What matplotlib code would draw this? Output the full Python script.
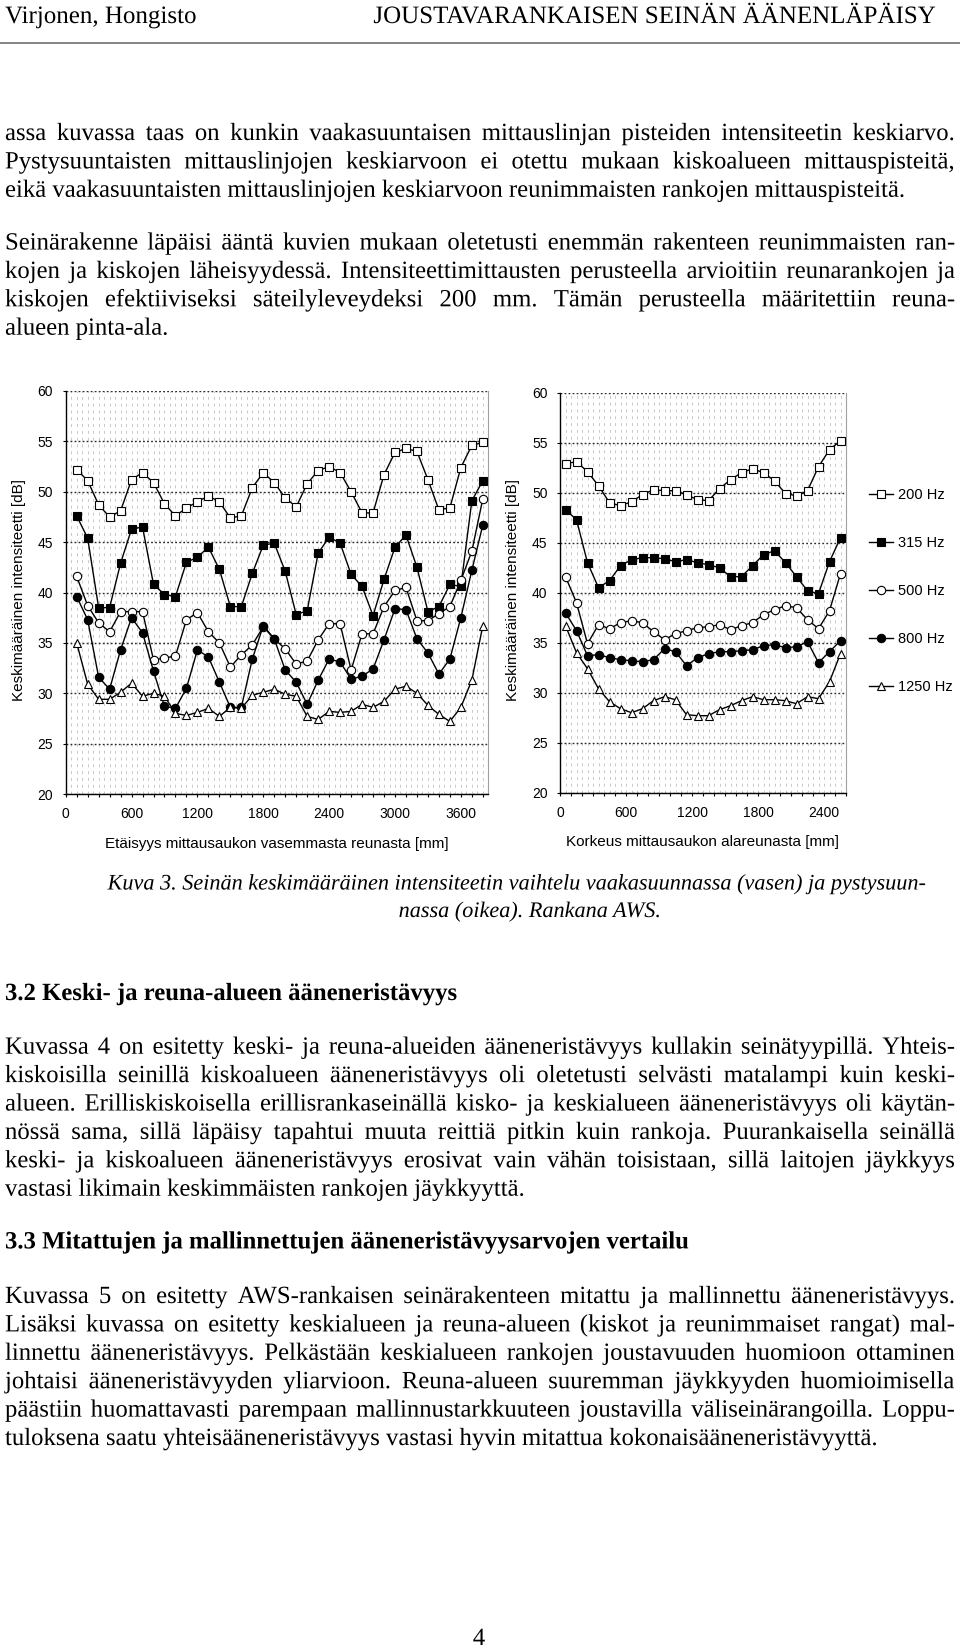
import numpy as np
import matplotlib.pyplot as plt
import matplotlib.patheffects as pe
from matplotlib.lines import Line2D

#-----------------------Data---------------------------------------------------
# left chart: distance from left edge of the opening [mm]
x_left = np.arange(100, 3801, 100)
l200 = [52.2, 51.1, 48.7, 47.5, 48.1, 51.2, 51.9, 50.9, 48.8, 47.6,
        48.4, 49.0, 49.6, 49.0, 47.4, 47.6, 50.4, 51.9, 50.9, 49.4,
        48.5, 50.8, 52.1, 52.5, 51.9, 50.0, 47.9, 47.9, 51.7, 53.9,
        54.3, 54.0, 51.2, 48.2, 48.4, 52.4, 54.6, 54.9]
l315 = [47.6, 45.4, 38.5, 38.5, 42.9, 46.3, 46.5, 40.8, 39.8, 39.6,
        43.0, 43.5, 44.5, 42.3, 38.6, 38.6, 41.9, 44.7, 44.9, 42.1,
        37.8, 38.2, 43.9, 45.5, 44.9, 41.8, 40.6, 37.7, 41.3, 44.5,
        45.7, 42.5, 38.1, 38.6, 40.8, 40.6, 49.1, 51.1]
l500 = [41.6, 38.7, 37.0, 36.1, 38.1, 38.1, 38.1, 33.3, 33.5, 33.7,
        37.3, 38.0, 36.1, 35.0, 32.6, 33.8, 34.8, 36.6, 35.4, 34.4,
        32.9, 33.2, 35.3, 36.9, 36.9, 32.3, 35.9, 35.9, 38.6, 40.2,
        40.5, 37.2, 37.2, 37.9, 38.6, 41.2, 44.1, 49.3]
l800 = [39.6, 37.3, 31.6, 30.4, 34.3, 37.5, 36.0, 32.2, 28.7, 28.5,
        30.5, 34.3, 33.6, 31.1, 28.6, 28.6, 33.4, 36.7, 35.4, 32.3,
        31.1, 28.9, 31.3, 33.4, 33.1, 31.4, 31.7, 32.4, 35.3, 38.4,
        38.3, 35.4, 34.0, 31.9, 33.4, 37.5, 42.2, 46.7]
l1250 = [35.0, 30.9, 29.4, 29.4, 30.1, 31.0, 29.7, 30.0, 29.7, 28.0,
         27.8, 28.1, 28.5, 27.7, 28.6, 28.5, 29.8, 30.1, 30.4, 29.9,
         29.7, 27.7, 27.4, 28.2, 28.1, 28.2, 28.9, 28.6, 29.2, 30.4,
         30.7, 30.0, 28.8, 27.9, 27.2, 28.6, 31.3, 36.7]

# right chart: height from bottom edge of the opening [mm]
x_right = np.arange(50, 2551, 100)
r200 = [52.9, 53.1, 52.1, 50.7, 49.0, 48.7, 49.1, 49.8, 50.3, 50.2,
        50.2, 49.8, 49.3, 49.2, 50.4, 51.3, 52.0, 52.4, 52.0, 51.2,
        49.9, 49.7, 50.2, 52.6, 54.3, 55.2]
r315 = [48.3, 47.3, 43.0, 40.5, 41.2, 42.7, 43.3, 43.5, 43.5, 43.4,
        43.1, 43.3, 43.0, 42.8, 42.5, 41.6, 41.6, 42.7, 43.8, 44.2,
        43.0, 41.6, 40.2, 39.9, 43.1, 45.5]
r500 = [41.6, 39.0, 34.9, 36.8, 36.4, 37.0, 37.2, 37.0, 36.1, 35.3,
        35.9, 36.2, 36.5, 36.6, 36.8, 36.3, 36.7, 37.0, 37.8, 38.3,
        38.7, 38.5, 37.3, 36.4, 38.2, 41.9]
r800 = [38.0, 36.2, 33.7, 33.8, 33.5, 33.3, 33.2, 33.1, 33.3, 34.4,
        34.1, 32.7, 33.5, 33.9, 34.1, 34.1, 34.2, 34.3, 34.7, 34.8,
        34.5, 34.6, 35.1, 33.0, 34.1, 35.2]
r1250 = [36.7, 34.0, 32.4, 30.4, 29.1, 28.4, 28.0, 28.4, 29.2, 29.6,
         29.3, 27.8, 27.7, 27.7, 28.3, 28.7, 29.2, 29.6, 29.3, 29.3,
         29.2, 28.9, 29.6, 29.4, 31.1, 33.9]

labels = ['200 Hz', '315 Hz', '500 Hz', '800 Hz', '1250 Hz']

#-----------------------Page text----------------------------------------------
par1 = ["assa kuvassa taas on kunkin vaakasuuntaisen mittauslinjan pisteiden intensiteetin keskiarvo.",
        "Pystysuuntaisten mittauslinjojen keskiarvoon ei otettu mukaan kiskoalueen mittauspisteitä,",
        "eikä vaakasuuntaisten mittauslinjojen keskiarvoon reunimmaisten rankojen mittauspisteitä."]
par2 = ["Seinärakenne läpäisi ääntä kuvien mukaan oletetusti enemmän rakenteen reunimmaisten ran-",
        "kojen ja kiskojen läheisyydessä. Intensiteettimittausten perusteella arvioitiin reunarankojen ja",
        "kiskojen efektiiviseksi säteilyleveydeksi 200 mm. Tämän perusteella määritettiin reuna-",
        "alueen pinta-ala."]
caption = ["Kuva 3. Seinän keskimääräinen intensiteetin vaihtelu vaakasuunnassa (vasen) ja pystysuun-",
           "nassa (oikea). Rankana AWS."]
head32 = "3.2 Keski- ja reuna-alueen ääneneristävyys"
par3 = ["Kuvassa 4 on esitetty keski- ja reuna-alueiden ääneneristävyys kullakin seinätyypillä. Yhteis-",
        "kiskoisilla seinillä kiskoalueen ääneneristävyys oli oletetusti selvästi matalampi kuin keski-",
        "alueen. Erilliskiskoisella erillisrankaseinällä kisko- ja keskialueen ääneneristävyys oli käytän-",
        "nössä sama, sillä läpäisy tapahtui muuta reittiä pitkin kuin rankoja. Puurankaisella seinällä",
        "keski- ja kiskoalueen ääneneristävyys erosivat vain vähän toisistaan, sillä laitojen jäykkyys",
        "vastasi likimain keskimmäisten rankojen jäykkyyttä."]
head33 = "3.3 Mitattujen ja mallinnettujen ääneneristävyysarvojen vertailu"
par4 = ["Kuvassa 5 on esitetty AWS-rankaisen seinärakenteen mitattu ja mallinnettu ääneneristävyys.",
        "Lisäksi kuvassa on esitetty keskialueen ja reuna-alueen (kiskot ja reunimmaiset rangat) mal-",
        "linnettu ääneneristävyys. Pelkästään keskialueen rankojen joustavuuden huomioon ottaminen",
        "johtaisi ääneneristävyyden yliarvioon. Reuna-alueen suuremman jäykkyyden huomioimisella",
        "päästiin huomattavasti parempaan mallinnustarkkuuteen joustavilla väliseinärangoilla. Loppu-",
        "tuloksena saatu yhteisääneneristävyys vastasi hyvin mitattua kokonaisääneneristävyyttä."]

#-----------------------Figure-------------------------------------------------
plt.rcParams['font.family'] = ['Liberation Sans', 'DejaVu Sans']
W, H = 960, 1650
fig = plt.figure(figsize=(W / 100, H / 100), dpi=100)
renderer = fig.canvas.get_renderer()
SERIF = 'Liberation Serif'
BODY = 17.8
# drawing the serif text as paths keeps every word on the same baseline
PATH = [pe.Normal()]


def fx(x):
    return x / W


def fy(y):
    return 1 - y / H


def put(x, y, s, **kw):
    return fig.text(fx(x), fy(y), s, va='baseline', family=SERIF,
                    path_effects=PATH, **kw)


def paragraph(lines, y0, pitch=28.4, left=5, right=955):
    # justified lines, last one left aligned
    for i, line in enumerate(lines):
        y = y0 + i * pitch
        words = line.split(' ')
        if i == len(lines) - 1 or len(words) == 1:
            put(left, y, line, fontsize=BODY)
            continue
        texts = [put(left, y, w, fontsize=BODY) for w in words]
        widths = [t.get_window_extent(renderer).width for t in texts]
        gap = (right - left - sum(widths)) / (len(words) - 1)
        x = left
        for t, w in zip(texts, widths):
            t.set_x(fx(x))
            x += w + gap


def axes_px(x0, y0, x1, y1):
    return fig.add_axes([fx(x0), fy(y1), (x1 - x0) / W, (y1 - y0) / H])


# header
put(5, 23, "Virjonen, Hongisto", fontsize=18)
put(935, 23, "JOUSTAVARANKAISEN SEINÄN ÄÄNENLÄPÄISY", fontsize=18, ha='right')
fig.add_artist(Line2D([0, 1], [fy(43), fy(43)], color='#7a7a7a', lw=1.3, transform=fig.transFigure))

paragraph(par1, 140)
paragraph(par2, 249.5)

#-----------------------Charts-------------------------------------------------
markers = ['s', 's', 'o', 'o', '^']
faces = ['white', 'black', 'white', 'black', 'white']
sizes = [5.6, 5.6, 6.0, 6.0, 6.0]


def chart(ax, x, series, xmax):
    lines = []
    for vals, lab, m, fc, ms in zip(series, labels, markers, faces, sizes):
        ln, = ax.plot(x, vals, color='black', lw=1.0, marker=m, mfc=fc, mec='black',
                      mew=0.8, ms=ms, label=lab, clip_on=False, zorder=3)
        lines.append(ln)
    ax.set_xlim(0, xmax)
    ax.set_ylim(20, 60)
    ticks = np.arange(0, xmax + 1, 100)
    ax.set_xticks(ticks)
    ax.set_xticklabels([str(t) if t % 600 == 0 else '' for t in ticks])
    ax.set_xticks(np.arange(50, xmax, 100), minor=True)
    ax.set_yticks(np.arange(20, 61, 5))
    ax.tick_params(axis='x', which='major', direction='out', length=2.5, width=0.8,
                   pad=7, labelsize=10)
    ax.tick_params(axis='x', which='minor', length=0)
    ax.tick_params(axis='y', direction='out', length=2.5, width=0.8, pad=6.5, labelsize=10)
    ax.grid(axis='x', which='both', color='#c8c8c8', lw=0.7, ls=(0, (3, 4)))
    ax.grid(axis='y', which='major', color='#2a2a2a', lw=1.0, ls=(0, (1.3, 1.6)))
    ax.set_axisbelow(True)
    ax.spines['top'].set_visible(False)
    ax.spines['right'].set_color('#a0a0a0')
    for s in ['left', 'bottom']:
        ax.spines[s].set_linewidth(1.0)
        ax.spines[s].set_color('black')
    return lines


ax1 = axes_px(65.7, 391, 488.3, 794)
chart(ax1, x_left, [l200, l315, l500, l800, l1250], 3850)
ax2 = axes_px(560, 392.7, 846, 792.7)
handles = chart(ax2, x_right, [r200, r315, r500, r800, r1250], 2600)

fig.text(fx(19), fy(590), 'Keskimääräinen intensiteetti [dB]', rotation=90,
         ha='center', va='center', fontsize=11)
fig.text(fx(513), fy(590), 'Keskimääräinen intensiteetti [dB]', rotation=90,
         ha='center', va='center', fontsize=11)
fig.text(fx(277), fy(844), 'Etäisyys mittausaukon vasemmasta reunasta [mm]',
         ha='center', va='center', fontsize=11)
fig.text(fx(703), fy(842), 'Korkeus mittausaukon alareunasta [mm]',
         ha='center', va='center', fontsize=11)

fig.legend(handles, labels, loc='upper left', bbox_to_anchor=(fx(869), fy(488)),
           frameon=False, borderpad=0, borderaxespad=0, handlelength=1.65,
           handletextpad=0.35, labelspacing=2.33, prop={'size': 10.5})

#-----------------------Text below charts--------------------------------------
put(517, 889.5, caption[0], fontsize=16, style='italic', ha='center')
put(530, 917, caption[1], fontsize=16, style='italic', ha='center')

put(5, 1000, head32, fontsize=BODY, weight='bold')
paragraph(par3, 1053.7)
put(5, 1248.4, head33, fontsize=BODY, weight='bold')
paragraph(par4, 1303)

put(479, 1645, "4", fontsize=BODY, ha='center')

fig.savefig('out.png', dpi=100)
